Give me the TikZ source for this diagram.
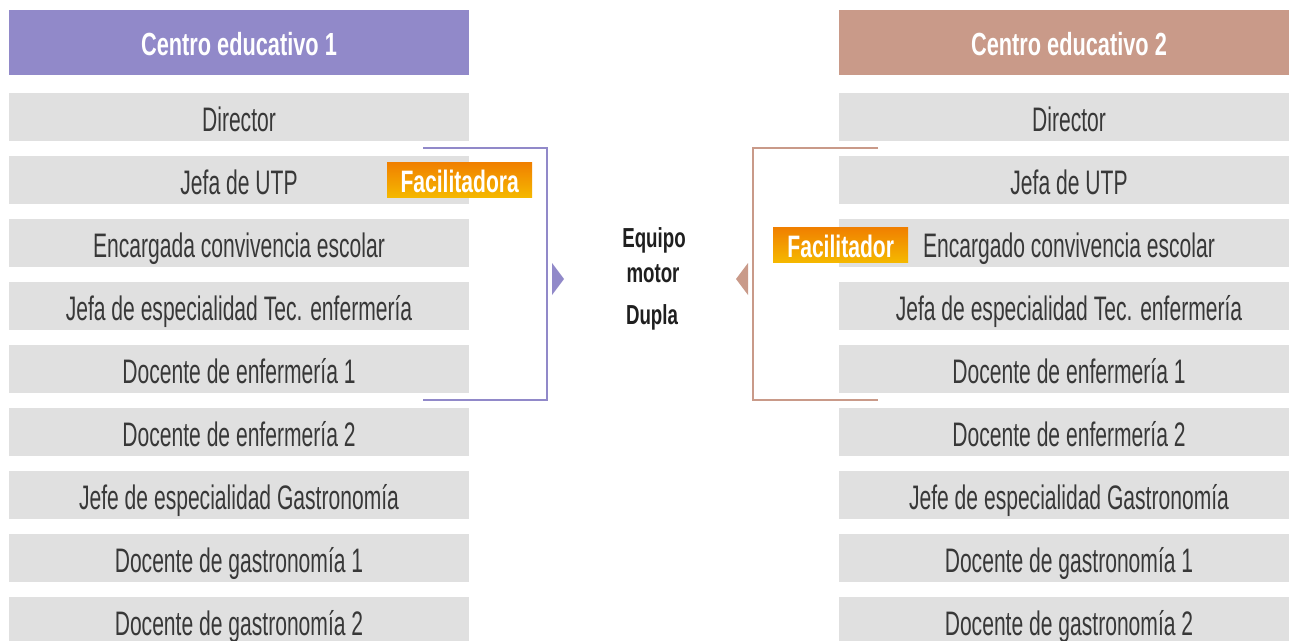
\documentclass[tikz,border=0pt]{standalone}
\usepackage{fontspec}
\newfontfamily\cf[FakeStretch=0.62]{Liberation Sans}
\newfontfamily\cfb[FakeStretch=0.68]{Liberation Sans}
\definecolor{purp}{HTML}{9189C9}
\definecolor{salm}{HTML}{C99A89}
\definecolor{rowg}{HTML}{E0E0E0}
\definecolor{txtc}{HTML}{383838}
\definecolor{orA}{HTML}{F07F00}
\definecolor{orB}{HTML}{F5B800}
\tikzset{
 rowbox/.style={fill=rowg, anchor=north, minimum width=460pt, inner sep=0pt, text height=38pt, text depth=10pt, font=\cf\fontsize{34}{38}\selectfont, text=txtc},
 headbox/.style={anchor=north, minimum width=460pt, inner sep=0pt, text height=45pt, text depth=20pt, font=\cfb\bfseries\fontsize{32}{36}\selectfont, text=white},
 faclabel/.style={anchor=north west, inner sep=0pt, text height=30pt, text depth=5pt, top color=orA, bottom color=orB, text=white, font=\cfb\bfseries\fontsize{31}{34}\selectfont},
 bracket/.style={line width=2.6pt},
 centertxt/.style={anchor=base, inner sep=0pt, font=\cfb\bfseries\fontsize{27.5}{30}\selectfont, text=black!88}
}
\begin{document}
\begin{tikzpicture}[x=1pt,y=-1pt]
\clip (0,0) rectangle (1289,640);
\fill[white] (0,0) rectangle (1289,640);
% headers
\node[headbox, fill=purp] (HL) at (239,10) {Centro educativo 1};
\node[headbox, fill=salm] (HR) at (1069,10) {Centro educativo 2};
% rows
\foreach \t [count=\i from 0] in {Director,Jefa de UTP,Encargada convivencia escolar,Jefa de especialidad Tec. enfermería,Docente de enfermería 1,Docente de enfermería 2,Jefe de especialidad Gastronomía,Docente de gastronomía 1,Docente de gastronomía 2}
  \node[rowbox] (L\i) at (239,93+63*\i) {\t};
\foreach \t [count=\i from 0] in {Director,Jefa de UTP,Encargado convivencia escolar,Jefa de especialidad Tec. enfermería,Docente de enfermería 1,Docente de enfermería 2,Jefe de especialidad Gastronomía,Docente de gastronomía 1,Docente de gastronomía 2}
  \node[rowbox] (R\i) at (1069,93+63*\i) {\t};
% brackets
\coordinate (lta) at (423,148);
\coordinate (ltb) at (547,148);
\coordinate (lba) at (547,400);
\coordinate (lbb) at (423,400);
\draw[bracket, purp] (lta) -- (ltb) -- (lba) -- (lbb);
\fill[purp] (552,263) -- (564,279) -- (552,295) -- cycle;
\coordinate (rta) at (878,148);
\coordinate (rtb) at (753,148);
\coordinate (rba) at (753,400);
\coordinate (rbb) at (878,400);
\draw[bracket, salm] (rta) -- (rtb) -- (rba) -- (rbb);
\fill[salm] (748,263) -- (736,279) -- (748,295) -- cycle;
% facilitator labels
\node[faclabel, minimum width=145pt] (FL) at (387,162) {Facilitadora};
\node[faclabel, minimum width=135pt] (FR) at (773,227) {Facilitador};
% center text
\node[centertxt] (EQ) at (654,247) {Equipo};
\node[centertxt] (MO) at (653,282) {motor};
\node[centertxt] (DU) at (652,324) {Dupla};
\end{tikzpicture}
\end{document}
